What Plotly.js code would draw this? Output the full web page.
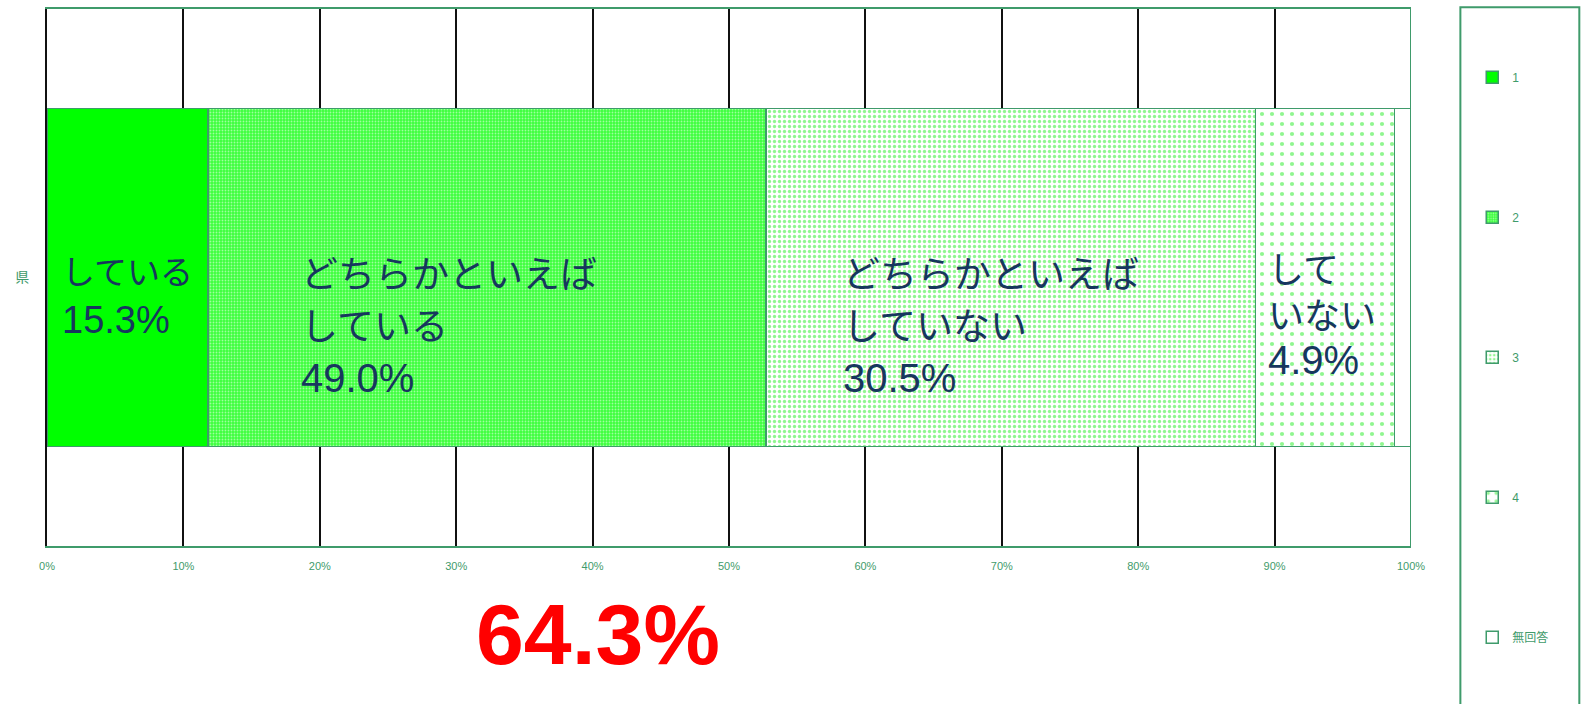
<!DOCTYPE html>
<html>
<head>
<meta charset="utf-8">
<script src="https://cdn.plot.ly/plotly-3.0.1.min.js"></script>
<style>html,body{margin:0;padding:0;background:#fff;}#chart{width:1583px;height:704px;}</style>
</head>
<body>
<div id="chart"></div>
<script>
// ---- data ----
const categories = ['県'];
const legendNames = ['1', '2', '3', '4', '無回答'];
const barValues = [11.8, 40.9, 35.9, 10.2, 1.2];
const labelWords = [
  ['している'],
  ['どちらかといえば', 'している'],
  ['どちらかといえば', 'していない'],
  ['して', 'いない']
];
const labelPercents = ['15.3%', '49.0%', '30.5%', '4.9%'];
const xTickVals = [0, 10, 20, 30, 40, 50, 60, 70, 80, 90, 100];
const xTickText = ['0%', '10%', '20%', '30%', '40%', '50%', '60%', '70%', '80%', '90%', '100%'];
const totalLabel = '64.3%';

// ---- styles ----
const GREEN = '#3f9b6b';
const patterns = [
  {shape: '', fgcolor: '#00ff00', bgcolor: '#00ff00'},
  {shape: '.', size: 3, solidity: 0.3, fgcolor: '#ffffff', bgcolor: '#3dff3d', fillmode: 'overlay'},
  {shape: '.', size: 5, solidity: 0.35, fgcolor: '#22ee22', bgcolor: '#ffffff', fillmode: 'overlay'},
  {shape: '.', size: 10, solidity: 0.14, fgcolor: '#22ee22', bgcolor: '#ffffff', fillmode: 'overlay'},
  {shape: '', fgcolor: '#ffffff', bgcolor: '#ffffff'}
];
const fills = ['#00ff00', '#80ff80', '#ffffff', '#ffffff', '#ffffff'];

const traces = legendNames.map((name, i) => ({
  type: 'bar',
  orientation: 'h',
  name: name,
  y: categories,
  x: [barValues[i]],
  width: 0.629,
  legendgroup: 'g' + i,
  marker: {
    color: fills[i],
    pattern: patterns[i],
    line: {color: GREEN, width: 1.5}
  },
  hoverinfo: 'name+x'
}));

// label positions (left edge in % units, vertical middle in paper units) and font sizes
const labelX = [0.98, 18.5, 58.2, 89.4];
const labelY = [0.462, 0.407, 0.407, 0.428];
const baseSize = [38, 40, 40, 35];
const digitSize = [38, 40, 40, 40];
const kanaSize = [33, 37, 37, 36];
const annotations = labelWords.map((words, i) => ({
  xref: 'x', yref: 'paper',
  x: labelX[i], y: labelY[i],
  xanchor: 'left', yanchor: 'middle', align: 'left',
  text: words.map(w => '<span style="font-size:' + kanaSize[i] + 'px">' + w + '</span>').join('<br>') +
        '<br><span style="font-size:' + digitSize[i] + 'px">' + labelPercents[i] + '</span>',
  showarrow: false,
  font: {family: 'Liberation Sans, Noto Sans CJK JP, sans-serif', size: baseSize[i], color: '#17375e'}
}));
annotations.push({
  xref: 'paper', yref: 'paper', x: 0.404, y: -0.1646,
  xanchor: 'center', yanchor: 'middle',
  text: '<b>' + totalLabel + '</b>', showarrow: false,
  font: {family: 'Liberation Sans, Arial, sans-serif', size: 86, color: '#ff0000'}
});

const layout = {
  width: 1583, height: 704,
  margin: {l: 47, r: 172, t: 9, b: 158, pad: 0},
  paper_bgcolor: '#ffffff', plot_bgcolor: '#ffffff',
  barmode: 'stack',
  font: {family: 'Liberation Sans, Noto Sans CJK JP, sans-serif', color: GREEN},
  xaxis: {
    range: [0, 100], tickvals: xTickVals, ticktext: xTickText,
    showgrid: true, gridcolor: '#111111', gridwidth: 2,
    showline: true, linecolor: GREEN, linewidth: 2, mirror: true,
    zeroline: false, ticks: '', ticklabelstandoff: 9,
    tickfont: {size: 11, color: GREEN}, fixedrange: true
  },
  yaxis: {
    range: [-0.5, 0.5], showgrid: false, zeroline: false,
    showline: true, linecolor: '#111111', linewidth: 2, mirror: false,
    ticks: '', ticklabelstandoff: 13,
    tickfont: {size: 14, color: GREEN, family: 'Noto Sans CJK JP, sans-serif'}, fixedrange: true
  },
  showlegend: true,
  legend: {
    x: 1.0449, y: 0.90, xanchor: 'left', yanchor: 'top',
    traceorder: 'grouped', tracegroupgap: 121, maxheight: 700,
    font: {size: 12, color: GREEN, family: 'Liberation Sans, Noto Sans CJK JP, sans-serif'},
    bgcolor: 'rgba(0,0,0,0)', borderwidth: 0
  },
  shapes: [
    {type: 'line', xref: 'x', yref: 'paper', x0: 100, x1: 100, y0: 0, y1: 1,
     line: {color: GREEN, width: 2}, layer: 'below'},
    {type: 'rect', xref: 'paper', yref: 'paper', x0: 1.0362, x1: 1.1234, y0: -0.35, y1: 1.0034,
     line: {color: GREEN, width: 2}, fillcolor: 'rgba(0,0,0,0)', layer: 'above'}
  ],
  annotations: annotations
};

Plotly.newPlot('chart', traces, layout, {displayModeBar: false, staticPlot: true});
</script>
</body>
</html>
